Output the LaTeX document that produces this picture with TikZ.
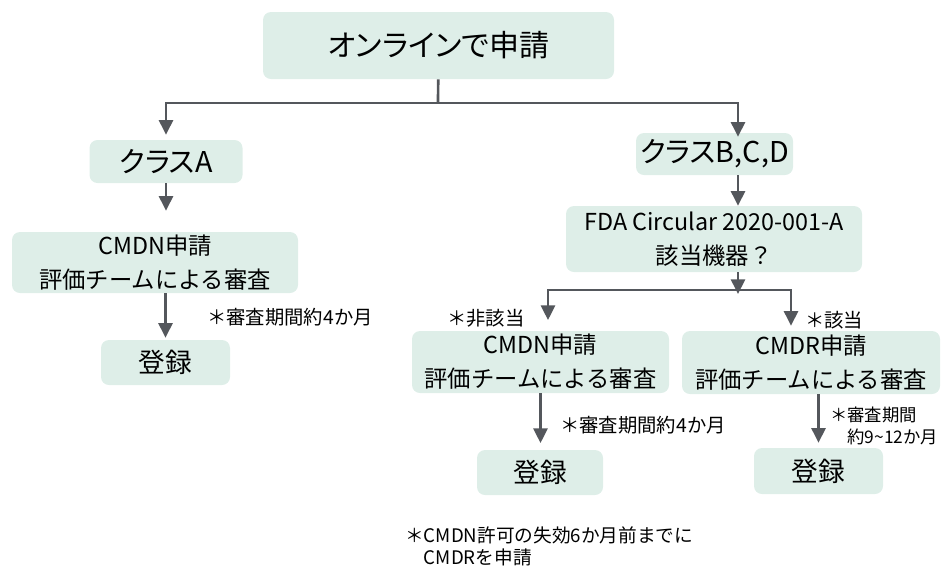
\documentclass[tikz,border=0pt]{standalone}
\usepackage{fontspec}
\setmainfont{Noto Sans CJK JP}
\newfontfamily\narrowjp[RawFeature=+palt]{Noto Sans CJK JP}
\usetikzlibrary{arrows.meta}
\definecolor{boxgreen}{HTML}{DEEEE8}
\definecolor{linegray}{HTML}{54575C}

\begin{document}
\begin{tikzpicture}[x=0.75pt,y=-0.75pt,
  box/.style={fill=boxgreen,rounded corners=6pt,inner sep=0pt,align=center,font=\fontsize{17.5}{25.5}\selectfont},
  arr/.style={-{Triangle[width=10.5pt,length=11pt]},line width=2pt,draw=linegray},
  link/.style={line width=2pt,draw=linegray},
  note/.style={anchor=west,inner sep=0pt,align=left,font=\fontsize{14.5}{16.5}\selectfont}]
\useasboundingbox (0,0) rectangle (941,569);
% boxes
\node[box,minimum width=263.25pt,minimum height=50.25pt,font=\narrowjp\fontsize{22.5}{27}\selectfont] (apply) at (438.5,45.5) {オンラインで申請};
\node[box,minimum width=114.75pt,minimum height=32.25pt,font=\narrowjp\fontsize{21.5}{26}\selectfont] (clsA) at (166,161.5) {クラスA};
\node[box,minimum width=117.75pt,minimum height=31.5pt,font=\narrowjp\fontsize{21.5}{26}\selectfont] (clsB) at (714.5,154) {クラスB,C,D};
\node[box,minimum width=222pt,minimum height=49.5pt] (fda) at (714,239) {FDA Circular 2020-001-A\\該当機器？};
\node[box,minimum width=214.5pt,minimum height=45.75pt] (cmdnA) at (155,262.5) {CMDN申請\\評価チームによる審査};
\node[box,minimum width=192.75pt,minimum height=46.5pt] (cmdnB) at (540.5,362) {CMDN申請\\評価チームによる審査};
\node[box,minimum width=193.5pt,minimum height=47.25pt] (cmdr) at (811,362.5) {CMDR申請\\評価チームによる審査};
\node[box,minimum width=96.75pt,minimum height=33.75pt,font=\fontsize{20}{24}\selectfont] (regA) at (165.5,362.5) {登録};
\node[box,minimum width=94.5pt,minimum height=33.75pt,font=\fontsize{20}{24}\selectfont] (regB) at (540,472.5) {登録};
\node[box,minimum width=96.75pt,minimum height=34.5pt,font=\fontsize{20}{24}\selectfont] (regC) at (818.5,471) {登録};
% forks
\coordinate (forkT) at (438,103);
\coordinate (forkL) at (166,103);
\coordinate (forkR) at (738,103);
\coordinate (splitM) at (738,290);
\coordinate (splitL) at (548,290);
\coordinate (splitR) at (791,290);
% connectors
\draw[link] (apply) -- (forkT);
\draw[arr,shorten >=3.75pt] (forkT) -- (forkL) -- (clsA);
\draw[arr,shorten >=-3pt] (forkT) -- (forkR) -- (forkR |- clsB.north);
\draw[arr,shorten >=15.75pt] (clsA) -- (clsA |- cmdnA.north);
\draw[arr] (forkR |- clsB.south) -- (forkR |- fda.north);
\draw[arr,shorten >=-3pt] (forkR |- fda.south) -- (splitM);
\draw[arr,shorten >=8pt] (splitM) -- (splitL) -- (splitL |- cmdnB.north);
\draw[arr,shorten >=3.75pt] (splitM) -- (splitR) -- (splitR |- cmdr.north);
\draw[arr,shorten >=1.5pt] (regA.north |- cmdnA.south) -- (regA);
\draw[arr,shorten >=5pt] (cmdnB) -- (cmdnB |- regB.north);
\draw[arr,shorten >=3.75pt] (regC.north |- cmdr.south) -- (regC);
% notes
\node[note] (termA) at (207,317) {＊審査期間約4か月};
\node[note] (nonfit) at (447,318) {＊非該当};
\node[note] (fit) at (805,320) {＊該当};
\node[note] (termB) at (560,425) {＊審査期間約4か月};
\node[note,font=\fontsize{13}{16.5}\selectfont] (termC) at (830,426) {＊審査期間\\\phantom{＊}約9\textasciitilde12か月};
\node[note,font=\fontsize{14}{16.5}\selectfont] (renew) at (405,546) {＊CMDN許可の失効6か月前までに\\\phantom{＊}CMDRを申請};
\end{tikzpicture}
\end{document}
